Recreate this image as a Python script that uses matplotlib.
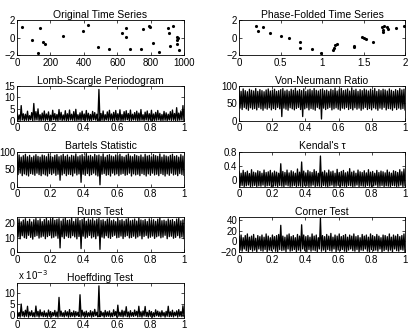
import numpy as np
import matplotlib
matplotlib.use('Agg')
import matplotlib.pyplot as plt

plt.rcParams['font.family'] = ['Liberation Sans', 'DejaVu Sans']
plt.rcParams['font.size'] = 7

# Original time series (time, value)
t_obs = [28, 92, 124, 139, 155, 169, 277, 394, 424, 486, 548, 626, 650, 650, 677,
         741, 755, 790, 798, 814, 848, 903, 913, 915, 933, 956, 958, 962, 960, 968]
y_obs = [1.18, -0.24, -1.81, 1.07, -0.5, -0.73, 0.13, 0.8, 1.44, -1.1, -1.36, 0.5, 1.07, 0.02, -1.29,
         -1.36, 0.92, 1.29, 1.21, -0.62, -1.63, 1.14, 0.54, -0.95, 1.36, 0.09, -0.28, -0.06, -0.77, -1.44]

# Phase-folded time series
phase = [0.21, 0.23, 0.29, 0.37, 0.50, 0.60, 0.73, 0.74, 0.88, 0.99, 1.13, 1.14, 1.16, 1.18, 1.38,
         1.38, 1.48, 1.50, 1.53, 1.61, 1.72, 1.73, 1.74, 1.75, 1.78, 1.80, 1.89, 1.99]
y_fold = [1.36, 0.80, 1.25, 0.50, 0.13, -0.06, -0.54, -1.25, -1.36, -1.74, -1.44, -1.18, -0.80, -0.69, -0.99,
          -1.10, 0.06, -0.06, -0.17, -0.54, 1.18, 0.88, 0.62, 1.36, 1.18, 0.99, 1.14, 1.29]

# Periodogram-like statistics: upper and lower envelope values across frequency 0..1
ls_hi = [3.2, 2.5, 6.5, 3.0, 2.8, 4.1, 2.2, 3.5, 7.4, 3.9, 5.1, 2.6, 3.3, 4.2, 2.9, 3.8, 2.4, 4.5, 3.1, 2.7,
         4.8, 3.6, 2.5, 4.3, 3.0, 4.6, 2.8, 3.9, 4.9, 2.6, 3.4, 4.1, 2.9, 4.4, 3.2, 2.7, 4.0, 3.5, 2.8, 13.4,
         3.1, 4.2, 2.6, 3.8, 4.5, 2.9, 3.6, 4.4, 3.0, 4.7, 2.7, 3.9, 4.3, 3.1, 4.6, 2.8, 3.5, 4.1, 3.3, 4.8,
         2.6, 3.7, 4.2, 3.0, 4.5, 2.9, 3.6, 4.4, 3.2, 2.7, 4.0, 3.4, 2.8, 3.9, 4.6, 3.1, 5.6, 3.3, 4.2, 6.5]
ls_lo = [0.2, 0.1, 0.3, 0.0, 0.2, 0.1, 0.4, 0.0, 0.2, 0.3, 0.1, 0.0, 0.2, 0.1, 0.3, 0.0, 0.2, 0.4, 0.1, 0.0,
         0.3, 0.1, 0.2, 0.0, 0.1, 0.3, 0.2, 0.0, 0.1, 0.2, 0.0, 0.3, 0.1, 0.2, 0.0, 0.1, 0.4, 0.2, 0.0, 0.1,
         0.2, 0.0, 0.3, 0.1, 0.2, 0.0, 0.1, 0.3, 0.2, 0.0, 0.1, 0.2, 0.4, 0.0, 0.1, 0.3, 0.2, 0.0, 0.1, 0.2,
         0.0, 0.3, 0.1, 0.2, 0.0, 0.1, 0.2, 0.3, 0.0, 0.1, 0.2, 0.0, 0.3, 0.1, 0.2, 0.0, 0.1, 0.2, 0.3, 0.0]

vn_hi = [88, 84, 91, 86, 83, 90, 87, 85, 92, 84, 89, 86, 83, 88, 91, 85, 87, 90, 84, 86,
         89, 92, 85, 88, 84, 90, 87, 93, 85, 89, 86, 91, 84, 88, 90, 86, 92, 87, 85, 89,
         91, 86, 88, 84, 90, 87, 93, 85, 89, 92, 86, 88, 91, 85, 94, 87, 90, 84, 89, 86,
         91, 88, 85, 90, 87, 92, 84, 89, 86, 90, 88, 85, 91, 87, 84, 89, 86, 92, 88, 90]
vn_lo = [36, 32, 38, 34, 30, 37, 33, 35, 31, 38, 34, 30, 36, 33, 37, 31, 35, 32, 38, 34,
         12, 36, 33, 30, 37, 34, 31, 35, 38, 32, 12, 34, 37, 31, 35, 33, 30, 38, 34, 5,
         36, 32, 35, 38, 31, 34, 37, 33, 30, 36, 34, 38, 32, 35, 31, 37, 33, 36, 30, 34,
         38, 32, 35, 31, 37, 34, 30, 36, 33, 38, 31, 35, 34, 30, 37, 32, 36, 33, 35, 31]

bt_hi = [86, 90, 84, 88, 92, 85, 89, 83, 87, 91, 86, 84, 90, 88, 85, 93, 87, 84, 89, 91,
         85, 88, 92, 86, 90, 84, 89, 87, 93, 85, 88, 91, 86, 94, 87, 89, 85, 92, 88, 90,
         86, 93, 84, 89, 91, 87, 85, 90, 88, 92, 86, 84, 89, 93, 87, 85, 91, 88, 86, 90,
         84, 92, 87, 89, 85, 91, 88, 86, 93, 84, 90, 87, 85, 89, 92, 86, 88, 84, 91, 87]
bt_lo = [34, 38, 31, 36, 33, 30, 37, 35, 32, 38, 34, 31, 36, 33, 30, 37, 34, 38, 32, 35,
         18, 33, 37, 31, 35, 34, 30, 38, 33, 36, 12, 35, 32, 37, 31, 34, 38, 33, 30, 5,
         35, 37, 32, 34, 30, 38, 33, 36, 31, 35, 37, 32, 34, 38, 30, 36, 33, 35, 31, 37,
         34, 30, 36, 32, 38, 33, 35, 31, 37, 34, 30, 36, 32, 38, 33, 35, 31, 37, 34, 32]

kt_hi = [0.22, 0.18, 0.26, 0.20, 0.24, 0.17, 0.28, 0.21, 0.19, 0.25, 0.23, 0.18, 0.27, 0.20, 0.22, 0.26, 0.19, 0.24, 0.21, 0.18,
         0.45, 0.23, 0.20, 0.27, 0.19, 0.25, 0.22, 0.18, 0.30, 0.21, 0.50, 0.24, 0.19, 0.26, 0.22, 0.20, 0.28, 0.23, 0.18, 0.67,
         0.21, 0.25, 0.19, 0.27, 0.22, 0.24, 0.18, 0.29, 0.20, 0.23, 0.26, 0.19, 0.22, 0.31, 0.21, 0.24, 0.18, 0.27, 0.22, 0.20,
         0.25, 0.19, 0.28, 0.21, 0.23, 0.18, 0.26, 0.20, 0.24, 0.22, 0.19, 0.27, 0.21, 0.18, 0.25, 0.23, 0.20, 0.28, 0.22, 0.30]
kt_lo = [-0.19, -0.17, -0.20, -0.18, -0.16, -0.20, -0.19, -0.17, -0.20, -0.18, -0.19, -0.16, -0.20, -0.18, -0.17, -0.20, -0.19, -0.18, -0.20, -0.17,
         -0.19, -0.20, -0.16, -0.18, -0.20, -0.19, -0.17, -0.20, -0.18, -0.19, -0.20, -0.17, -0.18, -0.20, -0.19, -0.16, -0.20, -0.18, -0.19, -0.20,
         -0.17, -0.19, -0.20, -0.18, -0.16, -0.20, -0.19, -0.17, -0.20, -0.18, -0.19, -0.20, -0.17, -0.18, -0.20, -0.19, -0.16, -0.20, -0.18, -0.19,
         -0.20, -0.17, -0.19, -0.20, -0.18, -0.16, -0.20, -0.19, -0.17, -0.20, -0.18, -0.19, -0.20, -0.17, -0.18, -0.20, -0.19, -0.16, -0.20, -0.18]

rt_hi = [21.5, 22.8, 20.9, 22.1, 23.0, 21.2, 22.6, 20.8, 22.3, 23.1, 21.7, 22.9, 21.0, 22.4, 23.2, 21.6, 22.7, 23.4, 21.9, 22.5,
         23.0, 21.4, 22.8, 23.3, 21.8, 22.2, 23.5, 21.1, 22.9, 23.2, 21.7, 22.4, 23.6, 21.3, 22.8, 22.1, 23.0, 21.5, 22.6, 23.1,
         21.9, 22.3, 21.2, 22.7, 23.0, 21.6, 22.2, 21.0, 22.9, 21.8, 22.4, 21.3, 22.6, 23.1, 21.5, 22.0, 22.8, 21.4, 23.3, 22.1,
         21.7, 22.5, 21.1, 22.9, 21.8, 22.3, 21.2, 22.6, 23.4, 21.6, 22.0, 21.3, 22.8, 21.9, 22.4, 21.0, 22.7, 23.2, 21.5, 22.2]
rt_lo = [10.5, 9.2, 11.3, 10.0, 9.5, 11.6, 10.2, 9.0, 10.8, 11.4, 9.7, 10.4, 11.0, 9.3, 10.7, 11.5, 9.8, 10.3, 11.2, 9.6,
         3.0, 10.6, 9.4, 11.1, 10.1, 9.9, 11.4, 10.5, 9.2, 10.8, 2.5, 11.0, 9.6, 10.3, 11.5, 9.8, 10.6, 9.3, 11.2, 2.0,
         10.4, 9.7, 11.3, 10.0, 9.5, 10.9, 11.6, 9.9, 10.2, 11.1, 9.4, 10.7, 11.4, 9.8, 10.1, 11.0, 9.6, 10.5, 11.3, 9.2,
         10.8, 11.5, 9.7, 10.3, 11.1, 9.5, 10.6, 11.2, 9.9, 10.4, 11.6, 9.3, 10.7, 11.0, 9.6, 10.2, 11.4, 9.8, 10.5, 9.4]

ct_hi = [9, 12, 7, 11, 14, 8, 10, 13, 6, 11, 9, 12, 8, 14, 10, 7, 12, 9, 11, 13,
         30, 10, 8, 12, 14, 9, 11, 7, 13, 10, 31, 12, 9, 11, 8, 14, 10, 12, 7, 43,
         11, 9, 13, 10, 15, 8, 12, 10, 14, 9, 11, 13, 8, 12, 10, 14, 9, 11, 7, 13,
         10, 12, 8, 14, 11, 9, 13, 10, 7, 12, 11, 9, 14, 8, 12, 10, 13, 9, 11, 14]
ct_lo = [-16, -18, -14, -17, -19, -15, -18, -16, -19, -14, -17, -18, -15, -19, -16, -17, -14, -18, -19, -15,
         -17, -16, -19, -14, -18, -17, -15, -19, -16, -18, -14, -17, -19, -15, -18, -16, -17, -19, -14, -18,
         -16, -19, -15, -17, -18, -14, -19, -16, -17, -15, -18, -19, -16, -14, -17, -18, -15, -19, -16, -17,
         -14, -18, -19, -15, -17, -16, -18, -14, -19, -17, -15, -18, -16, -19, -14, -17, -18, -15, -16, -19]

# Hoeffding statistic, in units of 1e-3
hf_hi = [1.8, 1.2, 5.0, 1.5, 2.2, 4.0, 1.4, 2.0, 1.1, 4.1, 1.7, 2.4, 1.3, 1.9, 1.0, 2.3, 1.6, 1.2, 2.1, 1.4,
         8.0, 1.8, 1.1, 2.0, 1.5, 2.5, 1.2, 1.9, 1.6, 1.3, 9.2, 2.2, 1.4, 1.8, 1.1, 2.0, 1.5, 2.6, 1.3, 13.2,
         1.7, 1.2, 2.1, 1.5, 1.9, 1.0, 2.4, 1.6, 4.5, 1.3, 2.2, 1.8, 3.8, 1.4, 2.0, 1.2, 2.3, 1.7, 4.0, 1.5,
         1.9, 3.9, 1.3, 2.1, 1.6, 1.1, 2.4, 1.8, 1.4, 2.0, 1.2, 1.7, 4.0, 1.5, 2.2, 1.3, 1.9, 2.5, 1.6, 4.2]
hf_lo = [-0.6, -0.9, -0.4, -0.8, -0.5, -0.9, -0.3, -0.7, -0.8, -0.5, -0.9, -0.4, -0.7, -0.6, -0.9, -0.5, -0.8, -0.3, -0.7, -0.9,
         -0.5, -0.6, -0.8, -0.4, -0.9, -0.7, -0.5, -0.8, -0.3, -0.6, -0.9, -0.4, -0.7, -0.8, -0.5, -0.9, -0.6, -0.3, -0.8, -0.7,
         -0.4, -0.9, -0.6, -0.5, -0.8, -0.7, -0.3, -0.9, -0.5, -0.6, -0.8, -0.4, -0.7, -0.9, -0.5, -0.6, -0.3, -0.8, -0.7, -0.9,
         -0.4, -0.6, -0.8, -0.5, -0.9, -0.7, -0.3, -0.6, -0.8, -0.4, -0.9, -0.5, -0.7, -0.6, -0.8, -0.3, -0.9, -0.5, -0.7, -0.6]

freq_ticks = [0, 0.2, 0.4, 0.6, 0.8, 1]
freq_labels = ['0', '0.2', '0.4', '0.6', '0.8', '1']


def band(hi, lo):
    y = np.empty(2 * len(hi))
    y[0::2] = hi
    y[1::2] = lo
    return np.linspace(0, 1, len(y)), y


fig = plt.figure(figsize=(4.15, 3.3), dpi=100)
W, H = 415.0, 330.0
col_x = [17, 239]
col_w = [167, 166]
FS = 7
TFS = 7.5


def make_ax(row, col):
    top = 20 + 65.75 * row
    h = 35
    ax = fig.add_axes([col_x[col] / W, 1 - (top + h) / H, col_w[col] / W, h / H])
    ax.tick_params(direction='in', top=True, right=True, length=2, width=0.5, labelsize=FS)
    ax.tick_params(axis='x', pad=1.8)
    ax.tick_params(axis='y', pad=1.2)
    for s in ax.spines.values():
        s.set_linewidth(0.6)
    return ax


# row 0
ax = make_ax(0, 0)
ax.plot(t_obs, y_obs, 'k.', markersize=2.5)
ax.set_xlim(0, 1000)
ax.set_ylim(-2, 2)
ax.set_xticks([0, 200, 400, 600, 800, 1000])
ax.set_yticks([-2, 0, 2])
ax.set_title('Original Time Series', pad=1.5, fontsize=TFS)

ax = make_ax(0, 1)
ax.plot(phase, y_fold, 'k.', markersize=2.5)
ax.set_xlim(0, 2)
ax.set_ylim(-2, 2)
ax.set_xticks([0, 0.5, 1, 1.5, 2])
ax.set_xticklabels(['0', '0.5', '1', '1.5', '2'])
ax.set_yticks([-2, 0, 2])
ax.set_title('Phase-Folded Time Series', pad=1.5, fontsize=TFS)

panels = [
    (1, 0, ls_hi, ls_lo, 'Lomb-Scargle Periodogram', (0, 15), [0, 5, 10, 15], None),
    (1, 1, vn_hi, vn_lo, 'Von-Neumann Ratio', (0, 100), [0, 50, 100], None),
    (2, 0, bt_hi, bt_lo, 'Bartels Statistic', (0, 100), [0, 50, 100], None),
    (2, 1, kt_hi, kt_lo, "Kendal's \u03c4", (-0.2, 0.8), [0, 0.4, 0.8], ['0', '0.4', '0.8']),
    (3, 0, rt_hi, rt_lo, 'Runs Test', (0, 24), [0, 10, 20], None),
    (3, 1, ct_hi, ct_lo, 'Corner Test', (-20, 45), [-20, 0, 20, 40], None),
    (4, 0, hf_hi, hf_lo, 'Hoeffding Test', (-1.3, 14.5), [0, 5, 10], None),
]

for row, col, hi, lo, title, ylim, yt, ytl in panels:
    ax = make_ax(row, col)
    x, y = band(hi, lo)
    ax.plot(x, y, color='k', linewidth=0.95)
    ax.set_xlim(0, 1)
    ax.set_ylim(*ylim)
    ax.set_xticks(freq_ticks)
    ax.set_xticklabels(freq_labels)
    ax.set_yticks(yt)
    if ytl:
        ax.set_yticklabels(ytl)
    ax.set_title(title, pad=1.5, fontsize=TFS)

fig.text(18 / W, 1 - 275 / H, 'x 10$^{-3}$', fontsize=FS, va='center', ha='left')

fig.savefig('out.png', dpi=100)
